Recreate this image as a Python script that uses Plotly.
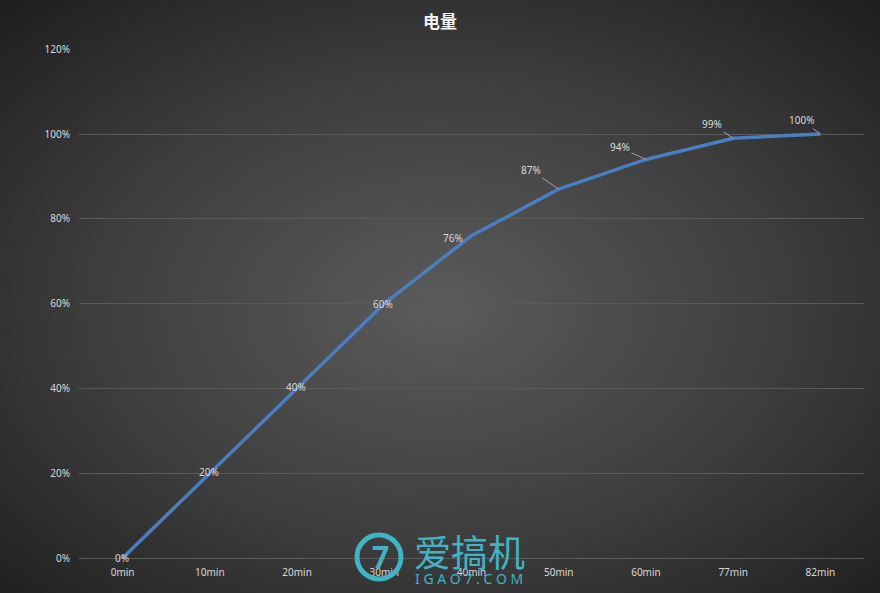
import base64
import plotly.graph_objects as go

categories = ["0min", "10min", "20min", "30min", "40min", "50min", "60min", "77min", "82min"]
charge = [0.00, 0.20, 0.40, 0.60, 0.76, 0.87, 0.94, 0.99, 1.00]
label_text = ["0%", "20%", "40%", "60%", "76%", "87%", "94%", "99%", "100%"]
y_ticks = [0, 0.2, 0.4, 0.6, 0.8, 1.0, 1.2]
y_tick_text = ["0%", "20%", "40%", "60%", "80%", "100%", "120%"]

W, H = 880, 593
ML, MR, MT, MB = 79, 16, 49, 35
PW, PH = W - ML - MR, H - MT - MB

def px_x(x):
    return (x - ML) / PW

def px_y(y):
    return 1 - (y - MT) / PH

svg = f'''<svg xmlns="http://www.w3.org/2000/svg" width="{W}" height="{H}" viewBox="0 0 {W} {H}" preserveAspectRatio="none">
<defs><radialGradient id="g" cx="50%" cy="52%" r="72%">
<stop offset="0%" stop-color="#5b5b5b"/>
<stop offset="55%" stop-color="#3d3d3d"/>
<stop offset="100%" stop-color="#1e1e1e"/>
</radialGradient></defs>
<rect x="0" y="0" width="{W}" height="{H}" fill="url(#g)"/>
</svg>'''
bg_src = "data:image/svg+xml;base64," + base64.b64encode(svg.encode()).decode()

fig = go.Figure()
fig.add_trace(go.Scatter(
    x=categories, y=charge, mode="lines",
    line=dict(color="#4a7ebf", width=3.5),
    hoverinfo="skip", showlegend=False,
))

label_font = dict(family="Noto Sans, Liberation Sans, sans-serif", size=10, color="#d9d9d9")

# label offsets (px): (dx, dy, leader)
offsets = [(-1, 0, False), (-1, -1, False), (-1, -1, False), (-1, 0, False),
           (-19, 2, False), (-28, -19, True), (-26, -12, True), (-21, -14, True), (-19, -14, True)]
annotations = []
for c, v, t, (dx, dy, lead) in zip(categories, charge, label_text, offsets):
    if lead:
        annotations.append(dict(
            x=c, y=v, xref="x", yref="y", text=t, showarrow=True,
            ax=dx, ay=dy, arrowhead=0, arrowwidth=1, arrowcolor="#a6a6a6",
            standoff=0, startstandoff=0, font=label_font,
        ))
    else:
        annotations.append(dict(
            x=c, y=v, xref="x", yref="y", text=t, showarrow=False,
            xshift=dx, yshift=-dy, font=label_font,
        ))

# watermark
teal = "#41b3c4"
annotations.append(dict(
    x=px_x(469), y=px_y(551), xref="paper", yref="paper", text="爱搞机", showarrow=False,
    xanchor="center", yanchor="middle",
    font=dict(family="Noto Sans CJK SC", size=37, color=teal),
))
annotations.append(dict(
    x=px_x(469), y=px_y(578), xref="paper", yref="paper", text="I G A O 7 . C O M", showarrow=False,
    xanchor="center", yanchor="middle",
    font=dict(family="Noto Sans", size=14, color=teal),
))
annotations.append(dict(
    x=px_x(380), y=px_y(556), xref="paper", yref="paper", text="<b>7</b>", showarrow=False,
    xanchor="center", yanchor="middle",
    font=dict(family="Noto Sans", size=30, color=teal),
))

fig.update_layout(
    width=W, height=H,
    margin=dict(l=ML, r=MR, t=MT, b=MB, pad=0),
    paper_bgcolor="#2e2e2e",
    plot_bgcolor="rgba(0,0,0,0)",
    title=dict(text="<b>电量</b>", x=0.5, xanchor="center", y=1 - 22 / H, yanchor="middle",
               font=dict(family="Noto Sans CJK SC", size=17, color="#f2f2f2")),
    images=[dict(source=bg_src, xref="paper", yref="paper",
                 x=-ML / PW, y=1 + MT / PH, sizex=W / PW, sizey=H / PH,
                 xanchor="left", yanchor="top", sizing="stretch", layer="below")],
    xaxis=dict(
        type="category", showgrid=False, zeroline=False,
        showline=False, ticks="", range=[-0.5, len(categories) - 0.5],
        tickfont=label_font, ticklabelstandoff=7,
    ),
    yaxis=dict(
        range=[0, 1.2005], tickvals=y_ticks, ticktext=y_tick_text,
        showgrid=True, gridcolor="#5a5a5a", gridwidth=1,
        zeroline=True, zerolinecolor="#5a5a5a", zerolinewidth=1,
        showline=False, ticks="",
        tickfont=label_font, ticklabelstandoff=8,
    ),
    shapes=[dict(type="circle", xref="paper", yref="paper",
                 x0=px_x(357), x1=px_x(401), y0=px_y(579), y1=px_y(535),
                 line=dict(color=teal, width=5), layer="above")],
    annotations=annotations,
)

fig.write_html("out.html", config={"displayModeBar": False},
               post_script="document.body.style.margin='0';document.body.style.overflow='hidden';")
